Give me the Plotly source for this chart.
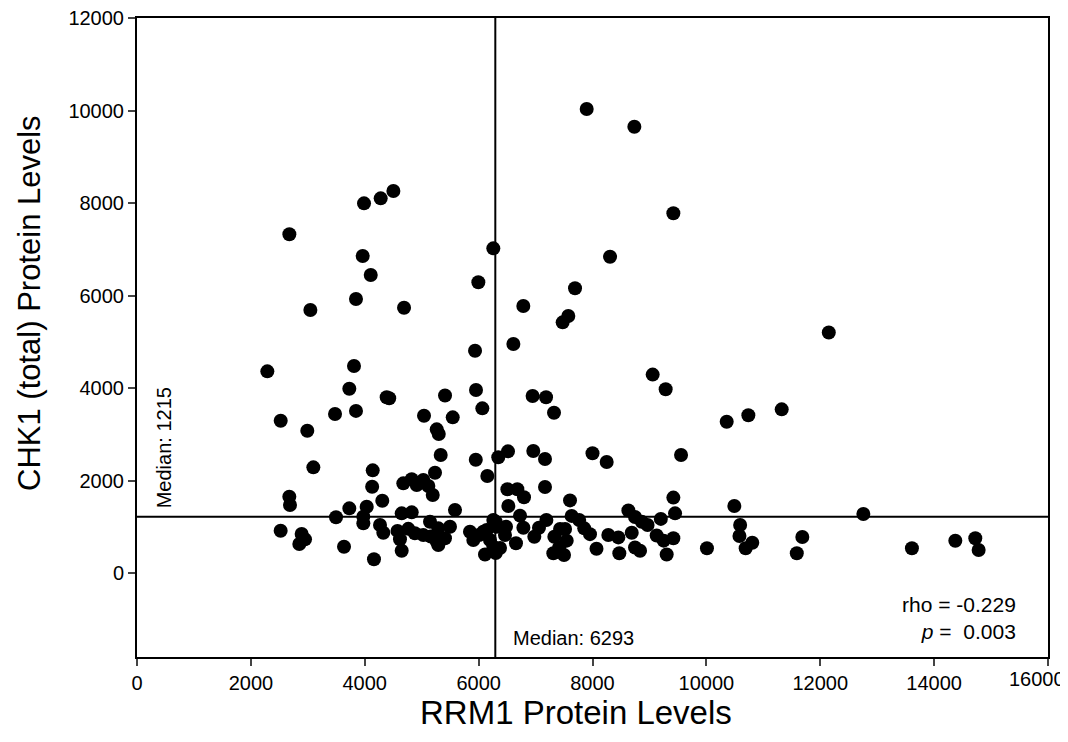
import plotly.graph_objects as go

rrm1 = [2289, 2524, 2676, 2675, 2687, 2523, 2892, 2951, 2851, 2991, 3045, 3097, 3478, 3495, 3636,
        3729, 3729, 3811, 3846, 3846, 3964, 3987, 3975, 3975, 4034, 4105, 4140, 4130, 4162, 4280,
        4268, 4326, 4308, 4385, 4430, 4503,
        4575, 4619, 4649, 4765, 4880, 5029, 5146, 5160, 5264, 5292, 5292, 5409, 5497,
        4649, 4825, 4677, 4825, 4913, 5029, 5117, 5194, 5234, 4690, 5041, 5264, 5300, 5334, 5410, 5545, 5585,
        5848, 5907, 6010, 6083, 6142, 6258, 6300, 6200, 6258, 6318, 6112, 6300,
        5950, 5954, 6065, 6153, 6258, 5995, 5937, 6345, 6516,
        6505, 6680, 6797, 6522, 6727, 6786, 6656, 6481, 6463, 6376,
        6610, 6785, 6960, 7166, 6948, 7184, 7324, 7166,
        6978, 7060, 7190,
        7330, 7430, 7518, 7547, 7634, 7766, 7855, 7956, 7312, 7500, 7415, 8070,
        7476, 7575, 7605, 7693, 7898, 8000, 8249, 8308, 8278, 8454, 8689, 8471, 8747, 8835,
        8630, 8747, 8865, 8967, 8735, 9057, 9285, 9200, 9127, 9250, 9420, 9303,
        9420, 9450, 9420, 9555,
        10010, 10357, 10491, 10593, 10581, 10690, 10806, 10737, 11323, 11588, 11685, 12150,
        12757, 13610, 14372, 14723, 14782]

chk1 = [4360, 3293, 7323, 1650, 1470, 915, 843, 728, 627, 3077, 5686, 2285, 3438, 1204, 569,
        1398, 3985, 4476, 3505, 5924, 6854, 7993, 1217, 1074, 1434, 6443, 2220, 1866, 296, 8101,
        1038, 872, 1563, 3800, 3780, 8259,
        910, 730, 480, 955, 860, 820, 1109, 790, 680, 966, 605, 750, 1001,
        1290, 1312, 1939, 2026, 1903, 2011, 1881, 1686, 2169, 5736, 3400, 3106, 3005, 2551, 3838, 3366, 1362,
        893, 714, 822, 893, 930, 1146, 1110, 714, 569, 1001, 400, 430,
        2450, 3957, 3560, 2097, 7020, 6285, 4806, 2502, 2630,
        1810, 1810, 1637, 1449, 1240, 980, 642, 1001, 822, 540,
        4951, 5773, 2638, 2465, 3827, 3800, 3466, 1860,
        785, 980, 1146,
        785, 950, 950, 700, 1235, 1146, 966, 840, 426, 389, 550, 525,
        5420, 5557, 1570, 6157, 10032, 2590, 2400, 6839, 822, 770, 872, 426, 550, 480,
        1350, 1210, 1109, 1038, 9650, 4290, 3972, 1170, 810, 700, 750, 400,
        1630, 1290, 7777, 2551,
        534, 3271, 1449, 1038, 800, 534, 655, 3410, 3539, 426, 780, 5200,
        1276, 534, 699, 750, 497]

median_x = 6293
median_y = 1215
x_ticks = [0, 2000, 4000, 6000, 8000, 10000, 12000, 14000, 16000]
y_ticks = [0, 2000, 4000, 6000, 8000, 10000, 12000]

font = "Liberation Sans, Arial, sans-serif"

# last x label drawn separately so it stays inside the window
x_ticktext = [str(v) for v in x_ticks[:-1]] + [""]

fig = go.Figure()
fig.add_trace(go.Scatter(x=rrm1, y=chk1, mode="markers",
                         marker=dict(size=14, color="black", line=dict(width=0)),
                         showlegend=False))

fig.add_shape(type="line", x0=median_x, x1=median_x, y0=0, y1=1, xref="x", yref="paper",
              line=dict(color="black", width=2))
fig.add_shape(type="line", x0=0, x1=1, y0=median_y, y1=median_y, xref="paper", yref="y",
              line=dict(color="black", width=2))

fig.add_annotation(x=x_ticks[-1], y=0, xref="x", yref="paper", text=str(x_ticks[-1]),
                   showarrow=False, xanchor="center", yanchor="top", xshift=-11, yshift=-9,
                   font=dict(size=20, color="black", family=font))

fig.add_annotation(x=median_x, y=-1816, xref="x", yref="y", text="Median: 6293",
                   showarrow=False, xanchor="left", yanchor="bottom", xshift=16, yshift=6,
                   font=dict(size=20, color="black", family=font))
fig.add_annotation(x=0, y=median_y, xref="x", yref="y", text="Median: 1215",
                   showarrow=False, textangle=-90, xanchor="left", yanchor="bottom",
                   xshift=14, yshift=6, font=dict(size=20, color="black", family=font))
fig.add_annotation(x=1, y=0, xref="paper", yref="paper",
                   text="rho = -0.229<br><i>p</i> =  0.003", align="right",
                   showarrow=False, xanchor="right", yanchor="bottom", xshift=-30, yshift=12,
                   font=dict(size=21, color="black", family=font))

# axis titles
fig.add_annotation(x=0.482, y=0, xref="paper", yref="paper", text="RRM1 Protein Levels",
                   showarrow=False, xanchor="center", yanchor="middle", yshift=-55,
                   font=dict(size=33, color="black", family=font))
fig.add_annotation(x=0, y=0.554, xref="paper", yref="paper", text="CHK1 (total) Protein Levels",
                   showarrow=False, textangle=-90, xanchor="center", yanchor="middle", xshift=-107,
                   font=dict(size=31, color="black", family=font))

fig.update_layout(
    width=1068, height=742,
    margin=dict(l=129, r=28, t=10, b=93),
    paper_bgcolor="white", plot_bgcolor="white",
    font=dict(family=font, color="black"),
    xaxis=dict(range=[0, 16000], tickvals=x_ticks, ticktext=x_ticktext,
               ticks="outside", ticklen=7, tickwidth=1.5, automargin=False,
               ticklabeloverflow="allow",
               showline=True, linecolor="black", linewidth=2, mirror=True, showgrid=False,
               zeroline=False, tickfont=dict(size=20, family=font)),
    yaxis=dict(range=[-1816, 12000], tickvals=y_ticks, ticktext=[str(v) for v in y_ticks],
               ticks="outside", ticklen=7, tickwidth=1.5, automargin=False,
               ticklabeloverflow="allow",
               showline=True, linecolor="black", linewidth=2, mirror=True, showgrid=False,
               zeroline=False, tickfont=dict(size=20, family=font)),
)

fig.write_html("out.html")
